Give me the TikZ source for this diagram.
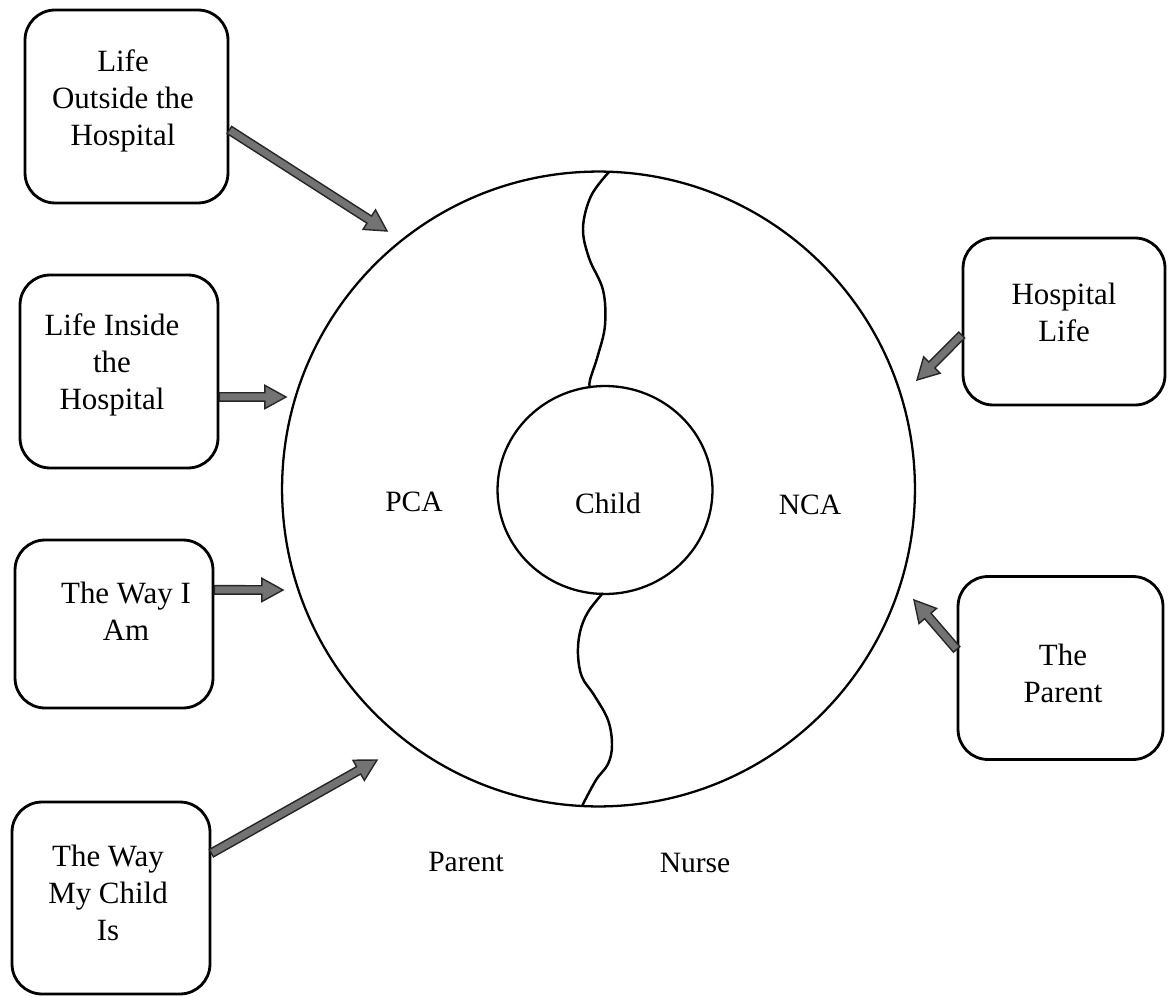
\documentclass[tikz,border=0pt]{standalone}
\usepackage{fontspec}
\setmainfont{Liberation Serif}
\usetikzlibrary{calc,shapes.geometric}

% thick grey block arrow with a dark outline, drawn from #1 to #2
\newcommand\fatarrow[2]{%
  \path ($(#2)!12pt!(#1)$) coordinate (fa-h);
  \filldraw[fatarrowstyle]
    ($(#1)!2.4pt!90:(#2)$) -- ($(fa-h)!2.4pt!90:(#2)$) -- ($(fa-h)!6.6pt!90:(#2)$)
    -- (#2)
    -- ($(fa-h)!6.6pt!-90:(#2)$) -- ($(fa-h)!2.4pt!-90:(#2)$) -- ($(#1)!2.4pt!-90:(#2)$) -- cycle;
}

\begin{document}
\begin{tikzpicture}[x=0.02cm,y=-0.02cm,
  txt/.style={font=\fontsize{17.6}{21}\selectfont, align=center, inner sep=0pt},
  lbl/.style={font=\fontsize{16.8}{20}\selectfont, inner sep=0pt},
  box/.style={draw, line width=1.6pt, rounded corners=0.6cm, inner sep=0pt},
  ring/.style={draw, ellipse, line width=1.3pt, inner sep=0pt},
  wave/.style={line width=1.4pt, line join=round},
  fatarrowstyle/.style={fill=black!55, draw=black!85, line width=0.8pt, line join=miter}]

\useasboundingbox (0,0) rectangle (1168,996);

% outer ring and the child circle
\node[ring, minimum width=12.66cm, minimum height=12.7cm] (outer) at (598.5,489) {};
\node[ring, minimum width=4.3cm, minimum height=4.16cm] (child) at (605,490) {};
\node[lbl] (childtxt) at (608,503) {Child};

% dividing lines between the two halves
\draw[wave] plot[smooth, tension=0.6] coordinates {(609,172) (591,196) (583,228) (589,258) (603,290) (605,325) (598,355) (590,380) (590,388)};
\draw[wave] plot[smooth, tension=0.6] coordinates {(603,593) (588,612) (580,632) (578,655) (582,677) (594,695) (608,720) (612,745) (608,764) (596,780) (582,806)};

% area labels
\node[lbl] (pca) at (414,502) {PCA};
\node[lbl] (nca) at (810,505) {NCA};
\node[lbl] (parent) at (466,862) {Parent};
\node[lbl] (nurse) at (695,863) {Nurse};

% boxes on the left
\node[box, minimum width=4.06cm, minimum height=3.86cm] (b1) at (126.5,106.5) {};
\node[txt] (t1) at (123,101) {Life\\Outside the\\Hospital};
\node[box, minimum width=3.96cm, minimum height=3.86cm] (b2) at (119,371.5) {};
\node[txt] (t2) at (112,365) {Life Inside\\the\\Hospital};
\node[box, minimum width=3.96cm, minimum height=3.36cm] (b3) at (114,624) {};
\node[txt] (t3) at (126,611) {The Way I\\Am};
\node[box, minimum width=3.96cm, minimum height=3.84cm] (b4) at (111,898) {};
\node[txt] (t4) at (108,893) {The Way\\My Child\\Is};

% boxes on the right
\node[box, minimum width=4.04cm, minimum height=3.34cm] (b5) at (1064,321.5) {};
\node[txt] (t5) at (1064,312) {Hospital\\Life};
\node[box, minimum width=4.1cm, minimum height=3.66cm] (b6) at (1060.5,668) {};
\node[txt] (t6) at (1063,673) {The\\Parent};

% arrow targets near the ring
\coordinate (e1) at (387,231);
\coordinate (e2) at (286,397);
\coordinate (e3) at (283,590);
\coordinate (e4) at (377,760);
\coordinate (e5) at (917,380);
\coordinate (e6) at (914,600);

% arrow start points on the box edges
\coordinate (s1) at ($(b1.north east)!0.62!(b1.south east)$);
\coordinate (s2) at ($(b2.north east)!0.63!(b2.south east)$);
\coordinate (s3) at ($(b3.north east)!0.30!(b3.south east)$);
\coordinate (s4) at ($(b4.north east)!0.27!(b4.south east)$);
\coordinate (s5) at ($(b5.north west)!0.58!(b5.south west)$);
\coordinate (s6) at ($(b6.north west)!0.40!(b6.south west)$);

\fatarrow{s1}{e1}
\fatarrow{s2}{e2}
\fatarrow{s3}{e3}
\fatarrow{s4}{e4}
\fatarrow{s5}{e5}
\fatarrow{s6}{e6}

\end{tikzpicture}
\end{document}
